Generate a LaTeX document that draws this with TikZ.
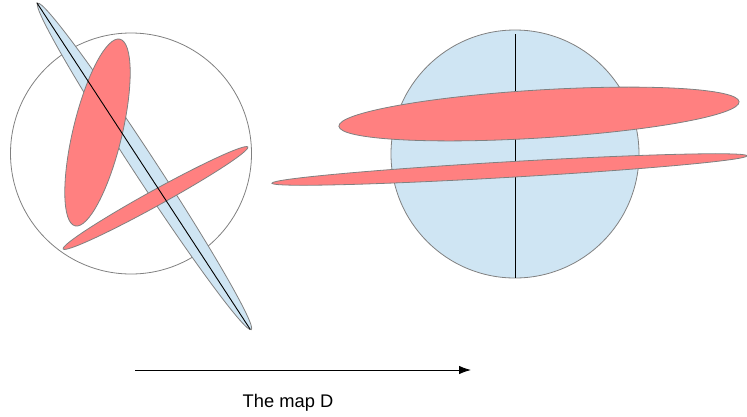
\documentclass[tikz,border=0pt]{standalone}
\usepackage{fontspec}
\setmainfont{Liberation Sans}
\usetikzlibrary{arrows.meta}
\definecolor{paleblue}{RGB}{207,229,243}
\definecolor{softred}{RGB}{255,128,128}
\definecolor{edgegray}{RGB}{128,128,128}
\tikzset{
  blueshape/.style={draw=edgegray, line width=0.8pt, fill=paleblue},
  redshape/.style={draw=edgegray, line width=0.8pt, fill=softred},
  ringshape/.style={draw=edgegray, line width=0.8pt},
  axisline/.style={draw=black, line width=0.9pt}
}
\begin{document}
\begin{tikzpicture}[x=1pt, y=-1pt]
  \useasboundingbox (0,0) rectangle (747,416);

  % left picture
  \coordinate (lc) at (131,153.5);
  \coordinate (bc) at (144.5,166.5);
  \coordinate (btop) at (36.8,2.7);
  \coordinate (bbot) at (250.2,329.3);
  \draw[ringshape] (lc) circle [radius=120.5pt];
  \draw[blueshape, rotate around={-56.8:(bc)}] (bc) ellipse [x radius=195pt, y radius=11.5pt];
  \draw[redshape, rotate around={76.5:(97.5,132.5)}] (97.5,132.5) ellipse [x radius=96pt, y radius=24.5pt];
  \draw[redshape, rotate around={28.9:(155.5,198)}] (155.5,198) ellipse [x radius=105.5pt, y radius=7.8pt];
  \draw[axisline] (btop) -- (bbot);

  % right picture
  \coordinate (rc) at (515,154);
  \coordinate (rtop) at (515,34);
  \coordinate (rbot) at (515,278);
  \draw[blueshape] (rc) circle [radius=124pt];
  \draw[axisline] (rtop) -- (rbot);
  \draw[redshape, rotate around={3.5:(539,114)}] (539,114) ellipse [x radius=200.5pt, y radius=24pt];
  \draw[redshape, rotate around={3.3:(509.5,169.5)}] (509.5,169.5) ellipse [x radius=238pt, y radius=7.8pt];

  % the map
  \coordinate (mapfrom) at (135,370);
  \coordinate (mapto) at (471,370);
  \draw[line width=0.9pt, -{Latex[length=12pt, width=8.5pt]}] (mapfrom) -- (mapto);
  \node[font=\fontsize{18.3}{22}\selectfont] (maplabel) at (288,403) {The map D};
\end{tikzpicture}
\end{document}
